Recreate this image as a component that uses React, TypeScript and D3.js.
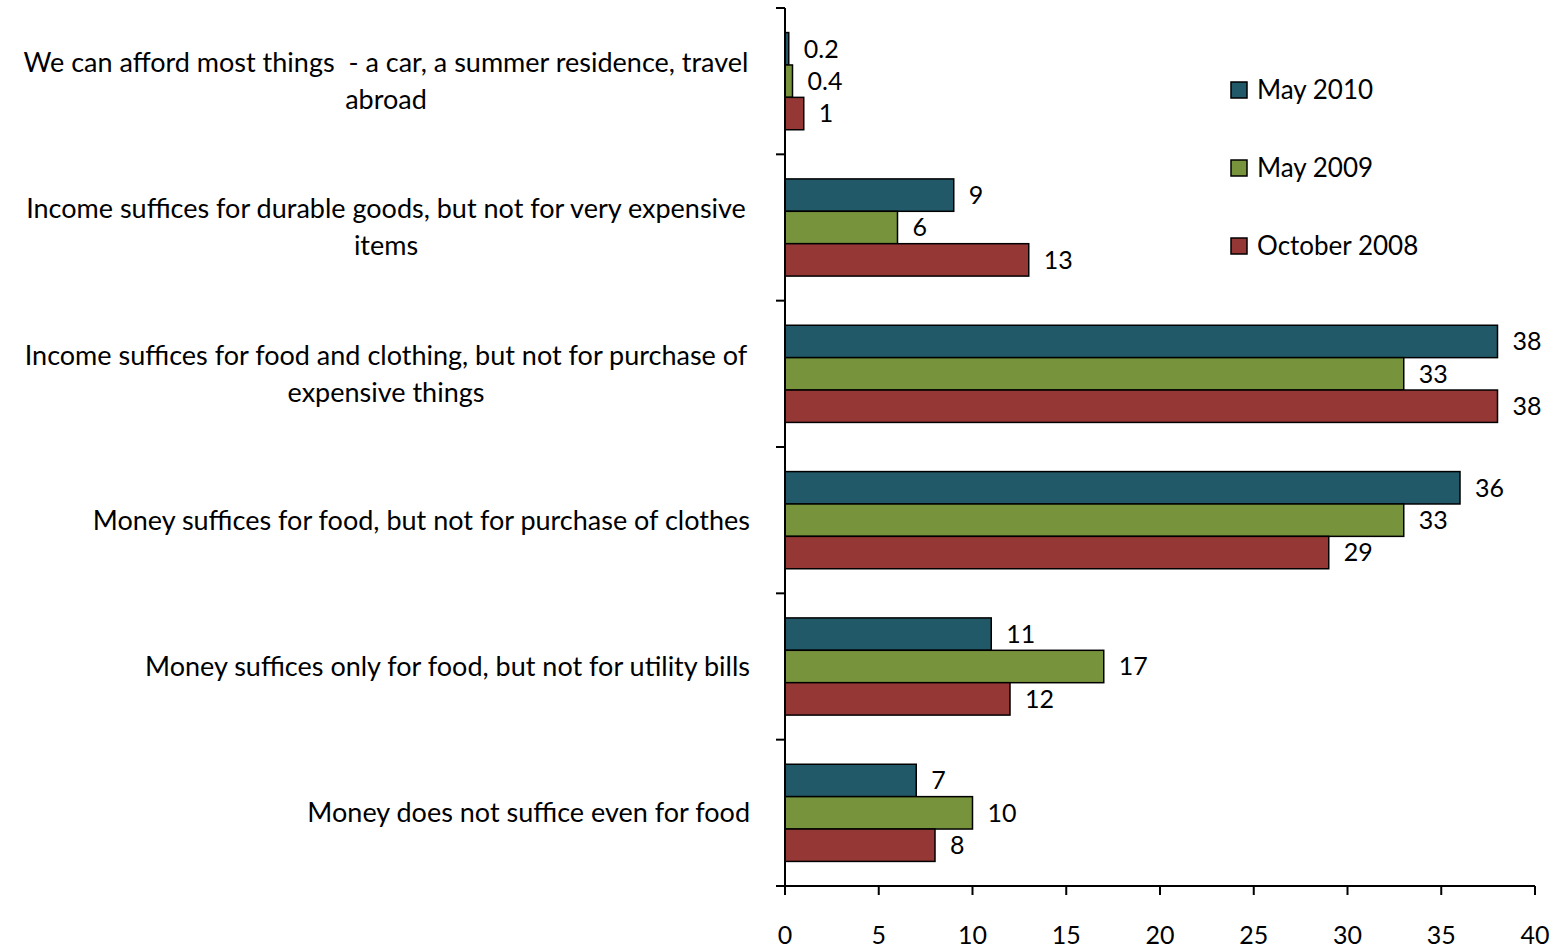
import React from "react";
import * as d3 from "d3";

const categories = [
  ["We can afford most things  - a car, a summer residence, travel", "abroad"],
  ["Income suffices for durable goods, but not for very expensive", "items"],
  ["Income suffices for food and clothing, but not for purchase of", "expensive things"],
  ["Money suffices for food, but not for purchase of clothes"],
  ["Money suffices only for food, but not for utility bills"],
  ["Money does not suffice even for food"],
];
const seriesNames = ["May 2010", "May 2009", "October 2008"];
const may2010 = [0.2, 9, 38, 36, 11, 7];
const may2009 = [0.4, 6, 33, 33, 17, 10];
const oct2008 = [1, 13, 38, 29, 12, 8];
const xTicks = [0, 5, 10, 15, 20, 25, 30, 35, 40];
const colors = ["#215968", "#77933C", "#953735"];

const W = 1564;
const H = 948;
const FONT = "Lato, 'Open Sans', sans-serif";
const FS_CAT = 27;
const FS_NUM = 25;
const FS_LEG = 26;

export default function App() {
  const series = [may2010, may2009, oct2008];
  const x = d3.scaleLinear().domain([0, 40]).range([785, 1535]);
  const y = d3
    .scaleBand<number>()
    .domain(d3.range(categories.length))
    .range([8, 886])
    .paddingInner(0.336)
    .paddingOuter(0.168);
  const ys = d3.scaleBand<number>().domain([0, 1, 2]).range([0, y.bandwidth()]);
  const step = y.step();
  const tickYs = d3.range(categories.length + 1).map((i) => 8 + i * step);

  return (
    <svg width={W} height={H} style={{ position: "absolute", left: 0, top: 0, background: "#fff" }}>
      {series.map((vals, s) =>
        vals.map((v, i) => (
          <rect
            key={`b${s}-${i}`}
            x={x(0)}
            y={(y(i) as number) + (ys(s) as number)}
            width={x(v) - x(0)}
            height={ys.bandwidth()}
            fill={colors[s]}
            stroke="#000"
            strokeWidth={1.5}
          />
        ))
      )}
      {series.map((vals, s) =>
        vals.map((v, i) => (
          <text
            key={`l${s}-${i}`}
            x={x(v) + 15}
            y={(y(i) as number) + (ys(s) as number) + ys.bandwidth() / 2}
            dy="0.35em"
            fontFamily={FONT}
            fontSize={FS_NUM}
            fill="#000"
          >
            {String(v)}
          </text>
        ))
      )}
      <line x1={x(0)} x2={x(0)} y1={8} y2={886} stroke="#000" strokeWidth={2} />
      {tickYs.map((t, i) => (
        <line key={`yt${i}`} x1={776} x2={x(0)} y1={t} y2={t} stroke="#000" strokeWidth={2} />
      ))}
      <line x1={776} x2={x(40)} y1={886} y2={886} stroke="#000" strokeWidth={2} />
      {xTicks.map((t) => (
        <g key={`xt${t}`}>
          <line x1={x(t)} x2={x(t)} y1={886} y2={895} stroke="#000" strokeWidth={2} />
          <text x={x(t)} y={935} dy="0.35em" textAnchor="middle" fontFamily={FONT} fontSize={FS_NUM}>
            {t}
          </text>
        </g>
      ))}
      {categories.map((lines, i) => {
        const cy = (y(i) as number) + y.bandwidth() / 2;
        if (lines.length === 1) {
          return (
            <text key={`c${i}`} x={750} y={cy} dy="0.35em" textAnchor="end" fontFamily={FONT} fontSize={FS_CAT}>
              {lines[0]}
            </text>
          );
        }
        return (
          <text
            key={`c${i}`}
            textAnchor="middle"
            fontFamily={FONT}
            fontSize={FS_CAT}
            style={{ whiteSpace: "pre" }}
          >
            {lines.map((ln, k) => (
              <tspan key={k} x={386} y={cy + (k - (lines.length - 1) / 2) * 37} dy="0.35em">
                {ln}
              </tspan>
            ))}
          </text>
        );
      })}
      {seriesNames.map((n, s) => (
        <g key={`lg${s}`} transform={`translate(1231, ${90 + s * 78})`}>
          <rect x={0} y={-8} width={16} height={16} fill={colors[s]} stroke="#000" strokeWidth={1.5} />
          <text x={26} y={0} dy="0.35em" fontFamily={FONT} fontSize={FS_LEG}>
            {n}
          </text>
        </g>
      ))}
    </svg>
  );
}
